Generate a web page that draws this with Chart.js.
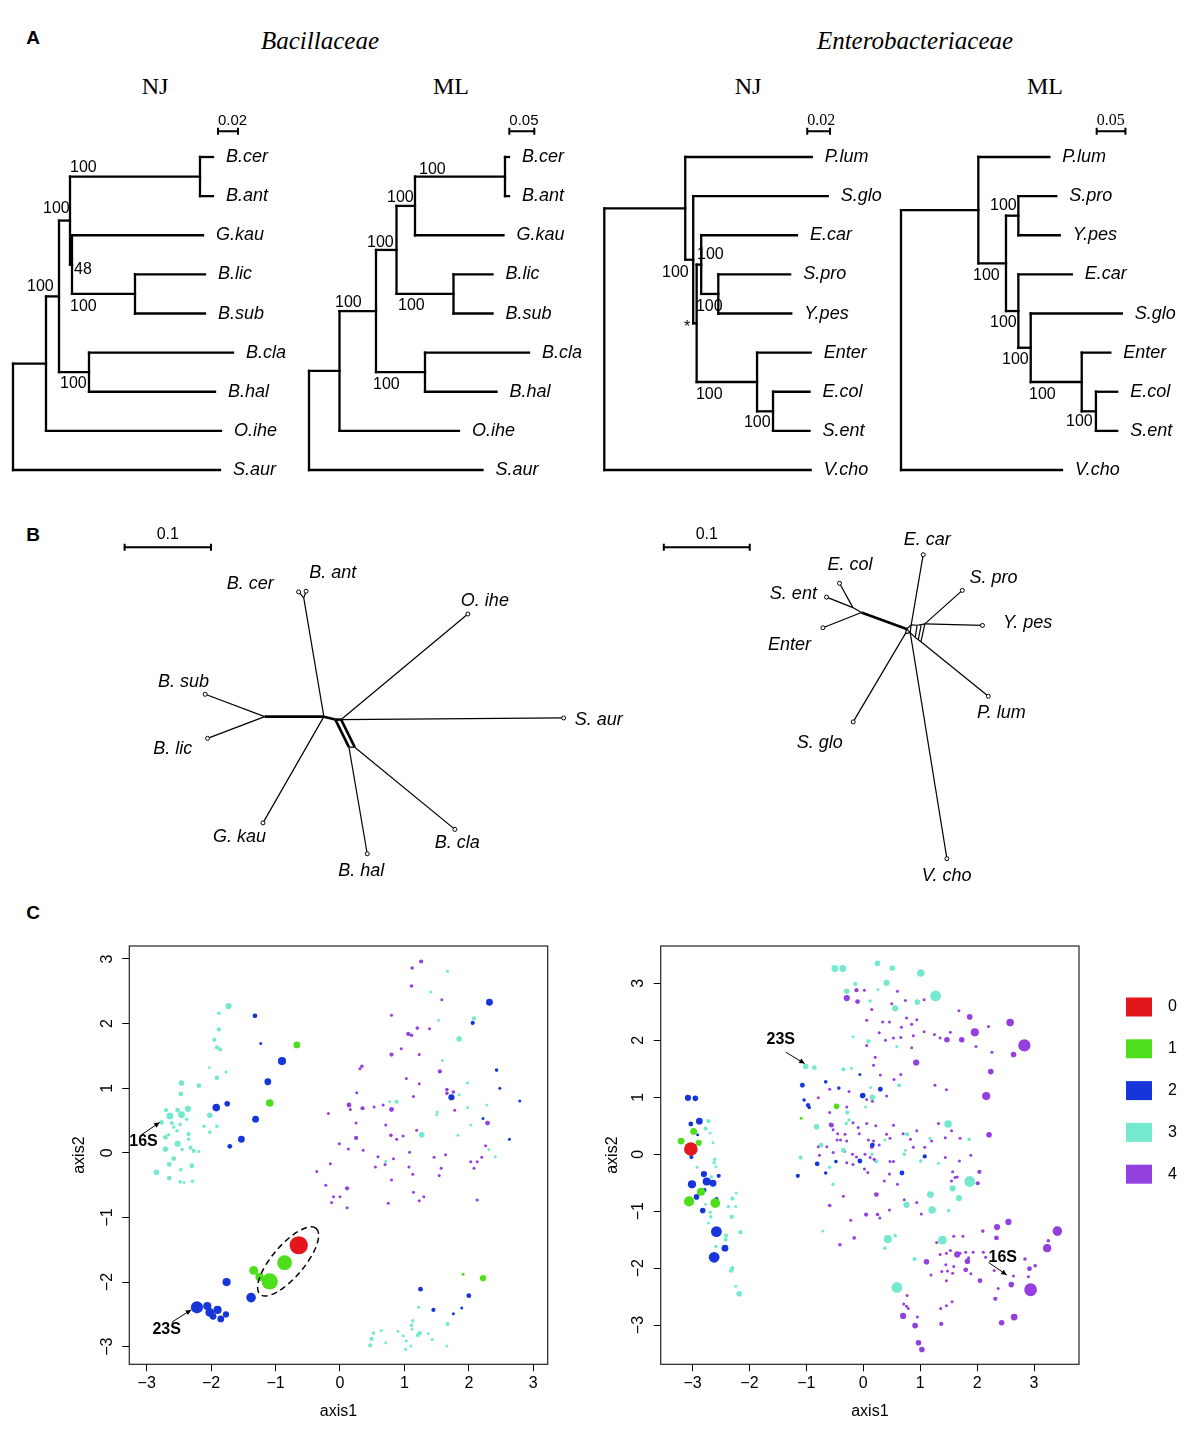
<!DOCTYPE html>
<html>
<head>
<meta charset="utf-8">
<script src="https://cdn.jsdelivr.net/npm/chart.js@4.4.1/dist/chart.umd.min.js"></script>
<style>
  body { margin: 0; background: #fff; }
  #page { position: relative; width: 1200px; height: 1436px; overflow: hidden; background: #fff; }
  canvas { position: absolute; }
  .t { position: absolute; transform: translate(-50%, -50%); line-height: 1; white-space: nowrap; color: #000; }
  .letter { font: bold 19px "Liberation Sans", Arial, sans-serif; }
  .fam { font: italic 25px "Liberation Serif", "Times New Roman", serif; }
  .meth { font: 24px "Liberation Serif", "Times New Roman", serif; }
</style>
</head>
<body>
<div id="page">
  <div class="t letter" style="left:33px;top:38px">A</div>
  <div class="t letter" style="left:33px;top:535px">B</div>
  <div class="t letter" style="left:33px;top:913px">C</div>
  <div class="t fam" style="left:320px;top:41px">Bacillaceae</div>
  <div class="t fam" style="left:915px;top:41px">Enterobacteriaceae</div>
  <div class="t meth" style="left:155px;top:86px">NJ</div>
  <div class="t meth" style="left:451px;top:86px">ML</div>
  <div class="t meth" style="left:748px;top:86px">NJ</div>
  <div class="t meth" style="left:1045px;top:86px">ML</div>

  <canvas id="njBac" width="300" height="390" style="left:0px;top:100px"></canvas>
  <canvas id="mlBac" width="290" height="390" style="left:300px;top:100px"></canvas>
  <canvas id="njEnt" width="300" height="390" style="left:590px;top:100px"></canvas>
  <canvas id="mlEnt" width="310" height="390" style="left:890px;top:100px"></canvas>

  <canvas id="bacNet" width="540" height="390" style="left:100px;top:510px"></canvas>
  <canvas id="entNet" width="420" height="390" style="left:640px;top:510px"></canvas>

  <canvas id="pcoLeft" width="500" height="500" style="left:60px;top:930px"></canvas>
  <canvas id="pcoRight" width="610" height="500" style="left:590px;top:930px"></canvas>
</div>

<script>
// ---------- panel A: trees (branch length from root, tips listed top to bottom) ----------
// internal nodes: [name, depth, children]; a child is a tip index or another node name
const njBacTips = ['B.cer', 'B.ant', 'G.kau', 'B.lic', 'B.sub', 'B.cla', 'B.hal', 'O.ihe', 'S.aur'];
const njBacLen = [0.200, 0.200, 0.190, 0.192, 0.192, 0.220, 0.202, 0.208, 0.207];
const njBacNodes = [
  ['root', 0, ['a', 8]],
  ['a', 0.033, ['b', 7]],
  ['b', 0.046, ['c', 'd']],
  ['c', 0.057, ['e', 'f']],
  ['e', 0.187, [0, 1]],
  ['f', 0.059, [2, 'g']],
  ['g', 0.122, [3, 4]],
  ['d', 0.076, [5, 6]]
];
const njBacSupport = [['100', 0.057, 0.28], ['100', 0.030, 1.33], ['48', 0.061, 2.88], ['100', 0.057, 3.83], ['100', 0.014, 3.32], ['100', 0.047, 5.78]];

const mlBacTips = ['B.cer', 'B.ant', 'G.kau', 'B.lic', 'B.sub', 'B.cla', 'B.hal', 'O.ihe', 'S.aur'];
const mlBacLen = [0.400, 0.400, 0.389, 0.367, 0.367, 0.440, 0.375, 0.300, 0.347];
const mlBacNodes = [
  ['root', 0, ['a', 8]],
  ['a', 0.061, ['b', 7]],
  ['b', 0.134, ['c', 'd']],
  ['c', 0.175, ['e', 'g']],
  ['e', 0.212, ['f', 2]],
  ['f', 0.392, [0, 1]],
  ['g', 0.289, [3, 4]],
  ['d', 0.232, [5, 6]]
];
const mlBacSupport = [['100', 0.220, 0.31], ['100', 0.156, 1.05], ['100', 0.116, 2.18], ['100', 0.178, 3.80], ['100', 0.052, 3.71], ['100', 0.128, 5.82]];

const njEntTips = ['P.lum', 'S.glo', 'E.car', 'S.pro', 'Y.pes', 'Enter', 'E.col', 'S.ent', 'V.cho'];
const njEntLen = [0.182, 0.196, 0.169, 0.163, 0.164, 0.181, 0.180, 0.180, 0.181];
const njEntNodes = [
  ['root', 0, ['a', 8]],
  ['a', 0.071, [0, 'b']],
  ['b', 0.078, [1, 'c']],
  ['c', 0.081, ['f', 'g']],
  ['f', 0.085, [2, 'h']],
  ['h', 0.100, [3, 4]],
  ['g', 0.134, [5, 'k']],
  ['k', 0.148, [6, 7]]
];
const njEntSupport = [['100', 0.0813, 2.5], ['100', 0.0506, 2.96], ['100', 0.0804, 3.83], ['*', 0.0700, 4.37], ['100', 0.0804, 6.06], ['100', 0.1225, 6.8]];

const mlEntTips = ['P.lum', 'S.pro', 'Y.pes', 'E.car', 'S.glo', 'Enter', 'E.col', 'S.ent', 'V.cho'];
const mlEntLen = [0.258, 0.270, 0.276, 0.297, 0.384, 0.364, 0.376, 0.376, 0.280];
const mlEntNodes = [
  ['root', 0, ['a', 8]],
  ['a', 0.1345, [0, 'b']],
  ['b', 0.1826, ['s', 'c']],
  ['s', 0.2041, [1, 2]],
  ['c', 0.2041, [3, 'd']],
  ['d', 0.2256, [4, 'g']],
  ['g', 0.3143, [5, 'k']],
  ['k', 0.3390, [6, 7]]
];
const mlEntSupport = [['100', 0.1548, 1.25], ['100', 0.1252, 3.04], ['100', 0.1548, 4.22], ['100', 0.1757, 5.19], ['100', 0.2226, 6.06], ['100', 0.2870, 6.77]];

// ---------- panel B: split networks (x, y in substitutions per site) ----------
const bacNetTips = ['B. cer', 'B. ant', 'O. ihe', 'B. sub', 'S. aur', 'B. lic', 'G. kau', 'B. cla', 'B. hal'];
const bacNetTipXY = [[-0.0292, 0.1455], [-0.0206, 0.1463], [0.1667, 0.1197], [-0.1374, 0.0261], [0.2776, -0.0015],
  [-0.1347, -0.0253], [-0.0705, -0.1239], [0.1517, -0.1315], [0.0502, -0.1599]];
const bacNetInner = { n0: [0, 0], n1: [0.0133, -0.0034], n1b: [0.0200, -0.0034], n2: [0.0290, -0.0356], n3: [0.0357, -0.0356],
  j1: [-0.0685, 0], jc: [-0.0233, 0.1386] };
const bacNetEdges = [['jc', 'B. cer'], ['jc', 'B. ant'], ['n0', 'jc'], ['j1', 'B. sub'], ['j1', 'B. lic'], ['j1', 'n0'],
  ['n0', 'G. kau'], ['n0', 'n1'], ['n1', 'n1b'], ['n1b', 'O. ihe'], ['n1b', 'S. aur'], ['n1', 'n2'], ['n1b', 'n3'],
  ['n2', 'n3'], ['n2', 'B. hal'], ['n3', 'B. cla']];
const bacNetBold = ['j1-n0', 'n0-n1', 'n1-n1b', 'n1-n2', 'n1b-n3'];
const bacNetLabelXY = [[-0.0852, 0.1545], [0.0102, 0.1670], [0.1864, 0.1352], [-0.1625, 0.0409], [0.3182, -0.0034],
  [-0.1750, -0.0375], [-0.0977, -0.1409], [0.1545, -0.1477], [0.0432, -0.1795]];

const entNetTips = ['E. car', 'E. col', 'S. pro', 'S. ent', 'Y. pes', 'Enter', 'P. lum', 'S. glo', 'V. cho'];
const entNetTipXY = [[0.0193, 0.0867], [-0.0781, 0.0534], [0.0648, 0.0451], [-0.0932, 0.0372], [0.0883, 0.0042],
  [-0.0974, 0.0015], [0.0951, -0.0784], [-0.0622, -0.1083], [0.0469, -0.2678]];
const entNetInner = { h0: [0, 0], h1: [0.0053, 0.0049], h6: [0.0122, 0.0044], h8: [0.0170, 0.0052], h2: [0.0212, 0.0060],
  h3: [0.0167, -0.0148], h9: [0.0136, -0.0125], h7: [0.0100, -0.0098], h4: [0.0042, -0.0042], h5: [-0.0015, -0.0053],
  j: [-0.0526, 0.0193], j2: [-0.0625, 0.0250] };
const entNetEdges = [['h0', 'j'], ['j', 'Enter'], ['j', 'j2'], ['j2', 'E. col'], ['j2', 'S. ent'], ['h0', 'h1'], ['h1', 'h6'],
  ['h6', 'h8'], ['h8', 'h2'], ['h0', 'h5'], ['h5', 'h4'], ['h4', 'h7'], ['h7', 'h9'], ['h9', 'h3'], ['h3', 'h2'],
  ['h1', 'h4'], ['h6', 'h7'], ['h8', 'h9'], ['h0', 'h4'],
  ['h1', 'E. car'], ['h2', 'S. pro'], ['h2', 'Y. pes'], ['h3', 'P. lum'], ['h4', 'V. cho'], ['h5', 'S. glo']];
const entNetBold = ['h0-j'];
const entNetLabelXY = [[0.0239, 0.1034], [-0.0659, 0.0750], [0.1011, 0.0591], [-0.1318, 0.0409], [0.1409, 0.0068],
  [-0.1364, -0.0182], [0.1102, -0.0977], [-0.1011, -0.1330], [0.0466, -0.2886]];

// ---------- panel C: ordination, points [axis1, axis2, size] ----------
const categories = ['0', '1', '2', '3', '4'];
const catColors = ['#E2161B', '#4EDF1C', '#1736DA', '#74E9CF', '#9340DF'];
const axisTicks = [-3, -2, -1, 0, 1, 2, 3];

const leftRed = [[-0.64, -1.43, 9.1]];
const leftGreen = [[-0.67, 1.67, 3.4], [-1.09, 0.77, 3.8], [-0.86, -1.70, 7.4], [-1.09, -1.99, 8.1], [-1.34, -1.82, 4.4],
  [-1.25, -1.92, 4.1], [1.91, -1.88, 1.5], [2.22, -1.94, 3.1]];
const leftBlue = [[-1.32, 2.12, 2.4], [-1.23, 1.69, 1.5], [-0.90, 1.42, 4.1], [-1.12, 1.10, 3.4], [-1.92, 0.70, 3.8],
  [-1.75, 0.76, 2.8], [-1.31, 0.52, 3.4], [-1.53, 0.21, 3.4], [-1.71, 0.10, 2.4],
  [-1.38, -2.24, 4.8], [-1.76, -2.00, 4.1], [-2.22, -2.39, 6.1], [-2.06, -2.37, 4.1], [-2.02, -2.47, 4.4], [-1.90, -2.43, 4.1],
  [-1.97, -2.53, 3.4], [-1.85, -2.57, 3.4], [-1.77, -2.50, 3.1],
  [2.32, 2.33, 3.4], [2.06, 2.01, 2.1], [2.43, 1.28, 1.8], [2.48, 1.00, 1.5], [1.73, 0.86, 3.1], [2.22, 0.53, 1.5],
  [2.79, 0.80, 1.5], [2.63, 0.21, 1.5],
  [1.25, -2.11, 2.4], [2.00, -2.21, 2.4], [1.45, -2.43, 2.1], [1.89, -2.40, 1.5], [1.76, -2.49, 1.5]];
const leftCyan = [[-1.73, 2.27, 3.1], [-1.88, 2.16, 1.8], [-1.88, 1.91, 2.1], [-1.95, 1.75, 2.1], [-1.91, 1.63, 2.1],
  [-1.86, 1.60, 2.1], [-1.77, 1.25, 1.5], [-1.91, 1.16, 2.4], [-2.03, 1.32, 1.2], [-2.19, 1.04, 2.4], [-2.46, 1.08, 2.8],
  [-2.47, 0.91, 2.4], [-2.36, 0.68, 3.1], [-2.52, 0.66, 2.4], [-2.64, 0.57, 3.4], [-2.70, 0.66, 2.1], [-2.46, 0.59, 3.4],
  [-2.38, 0.52, 1.8], [-2.61, 0.46, 2.1], [-2.58, 0.40, 1.8], [-2.77, 0.47, 2.4], [-2.02, 0.58, 2.8], [-2.11, 0.41, 1.8],
  [-1.91, 0.41, 1.8], [-2.02, 0.32, 1.8], [-2.35, 0.29, 2.1], [-2.52, 0.14, 3.1], [-2.35, 0.21, 1.8], [-2.71, 0.24, 2.4],
  [-2.71, 0.06, 2.8], [-2.45, 0.05, 1.8], [-2.32, 0.08, 2.1], [-2.27, 0.03, 2.1], [-2.19, 0.02, 1.5], [-2.58, -0.09, 2.4],
  [-2.65, -0.18, 2.4], [-2.85, -0.30, 2.8], [-2.47, -0.26, 1.8], [-2.30, -0.20, 2.4], [-2.65, -0.39, 2.4], [-2.48, -0.45, 1.8],
  [-2.42, -0.46, 1.5], [-2.29, -0.44, 1.8], [-1.74, 0.76, 1.5], [-2.48, 0.44, 1.8], [-2.53, 0.34, 1.8], [-2.66, 0.28, 1.8],
  [1.41, 2.49, 1.5], [1.67, 2.81, 1.5], [1.53, 2.05, 1.5], [2.08, 2.08, 2.1], [1.85, 1.76, 2.8], [1.59, 1.43, 1.5],
  [1.98, 1.08, 1.5], [1.85, 0.90, 1.5], [0.77, 0.79, 1.5], [0.88, 0.79, 2.1], [1.51, 0.63, 1.5], [1.98, 0.70, 1.5],
  [2.28, 0.74, 1.5], [2.03, 0.43, 1.5], [1.27, 0.28, 2.8], [1.83, 0.27, 1.5], [2.31, 0.05, 1.5], [2.41, -0.06, 1.5],
  [0.71, -0.13, 1.5], [1.50, 0.59, 1.5],
  [1.67, -2.65, 2.1], [1.22, -2.39, 1.5], [1.13, -2.60, 1.8], [1.11, -2.67, 1.8], [1.24, -2.79, 2.1], [1.21, -2.82, 2.1],
  [1.37, -2.80, 1.5], [1.43, -2.89, 1.5], [0.90, -2.76, 1.5], [0.98, -2.83, 1.5], [1.03, -2.91, 1.5], [1.10, -2.99, 1.5],
  [1.02, -3.04, 1.5], [0.64, -2.75, 1.5], [0.52, -2.79, 1.8], [0.49, -2.88, 2.1], [0.47, -2.98, 2.1], [0.71, -2.94, 1.5],
  [1.66, -2.99, 1.5], [1.12, -2.73, 1.5]];
const leftPurple = [[1.26, 2.96, 2.1], [1.12, 2.86, 1.8], [1.11, 2.58, 1.8], [1.58, 2.37, 1.5], [0.80, 2.13, 1.5],
  [1.20, 1.93, 1.8], [1.39, 1.92, 1.5], [1.06, 1.84, 2.1], [1.11, 1.82, 1.8], [0.95, 1.61, 1.5], [0.80, 1.52, 2.1],
  [1.23, 1.52, 1.5], [0.34, 1.34, 1.8], [0.31, 1.30, 1.5], [1.55, 1.26, 2.1], [1.03, 1.15, 1.5], [1.23, 1.07, 1.5],
  [0.26, 0.93, 1.5], [1.14, 0.87, 1.5], [1.66, 0.98, 1.8], [1.66, 0.92, 1.8], [1.76, 0.94, 1.8], [0.14, 0.74, 2.4],
  [0.16, 0.67, 1.5], [0.35, 0.69, 2.1], [0.53, 0.71, 1.5], [0.67, 0.74, 1.5], [0.80, 0.67, 2.4], [1.78, 0.66, 1.5],
  [2.29, 0.46, 2.4], [-0.18, 0.61, 1.5], [0.25, 0.46, 1.5], [0.71, 0.43, 1.5], [1.19, 0.35, 1.5], [0.25, 0.23, 2.1],
  [0.79, 0.27, 1.8], [0.88, 0.21, 1.5], [0.98, 0.26, 1.5], [-0.01, 0.14, 1.5], [0.13, 0.06, 1.5], [0.36, 0.04, 1.5],
  [1.08, 0.01, 1.5], [2.26, 0.11, 1.5], [1.64, -0.03, 1.5], [1.46, -0.07, 1.5], [2.03, -0.14, 1.5], [2.13, -0.14, 1.5],
  [2.20, -0.07, 1.5], [-0.15, -0.17, 1.5], [0.59, -0.06, 1.5], [0.70, -0.18, 1.5], [0.83, -0.09, 1.5], [0.55, -0.22, 1.5],
  [1.07, -0.22, 1.5], [1.13, -0.33, 1.5], [1.57, -0.24, 1.5], [1.54, -0.35, 1.5], [2.08, -0.24, 1.5], [-0.36, -0.29, 1.5],
  [-0.22, -0.50, 1.5], [0.11, -0.55, 2.1], [-0.10, -0.68, 1.5], [0.00, -0.68, 1.5], [-0.13, -0.77, 1.5], [0.11, -0.85, 1.5],
  [0.80, -0.42, 1.5], [1.14, -0.61, 1.5], [1.30, -0.68, 1.5], [1.23, -0.74, 1.5], [0.75, -0.78, 1.5], [2.13, -0.73, 1.5]];

const rightRed = [[-3.03, 0.09, 6.8]];
const rightGreen = [[-2.98, 0.40, 3.4], [-3.20, 0.23, 3.4], [-2.89, 0.20, 3.1], [-2.85, -0.66, 4.1], [-3.06, -0.83, 5.1],
  [-2.60, -0.86, 4.8], [-0.47, 0.84, 2.8], [-1.09, 0.63, 1.5]];
const rightBlue = [[-3.08, 0.99, 3.1], [-2.95, 0.98, 2.8], [-3.03, 0.53, 2.4], [-2.88, 0.58, 3.4], [-2.91, 0.34, 1.5],
  [-3.02, -0.05, 2.1], [-2.80, -0.35, 3.1], [-2.75, -0.48, 4.1], [-2.64, -0.51, 3.4], [-3.01, -0.53, 4.1], [-2.54, -0.38, 2.1],
  [-2.93, -0.75, 2.8], [-2.79, -0.63, 2.1], [-2.58, -0.79, 2.1], [-2.82, -0.99, 2.8], [-2.58, -1.36, 5.4], [-2.43, -1.65, 3.4],
  [-2.62, -1.81, 5.4],
  [-1.07, 1.21, 2.4], [-1.04, 0.95, 1.8], [-0.97, 0.86, 2.1], [-0.95, 0.82, 1.8], [-0.66, 1.27, 1.8], [-0.43, 1.16, 1.8],
  [-0.06, 1.40, 1.5], [-0.01, 1.03, 2.8], [0.30, 1.14, 2.4], [0.16, 0.16, 2.4], [-0.06, -0.12, 2.4], [-0.81, -0.17, 2.4],
  [-0.66, -0.33, 1.8], [-0.48, -0.13, 1.8], [-1.15, -0.38, 2.1], [0.68, -0.33, 2.4], [1.08, -0.04, 2.1]];
const rightCyan = [[-2.72, 0.58, 2.1], [-2.77, 0.45, 2.1], [-2.69, 0.37, 1.5], [-2.64, 0.20, 1.5], [-2.61, -0.09, 1.8],
  [-2.62, -0.15, 1.8], [-2.59, -0.22, 1.5], [-2.92, -0.23, 1.5], [-2.67, -0.40, 1.8], [-2.77, -0.88, 1.5], [-2.65, -0.82, 1.8],
  [-2.37, -0.92, 1.8], [-2.30, -0.78, 2.1], [-2.23, -0.68, 1.5], [-2.24, -0.92, 1.5], [-2.69, -1.02, 1.8], [-2.68, -1.10, 1.8],
  [-2.31, -1.10, 2.1], [-2.72, -1.21, 1.5], [-2.41, -1.43, 2.1], [-2.42, -1.50, 2.1], [-2.16, -1.37, 2.1], [-2.59, -1.62, 1.8],
  [-2.32, -2.04, 2.4], [-2.30, -2.00, 2.1], [-2.24, -2.32, 1.5], [-2.18, -2.45, 2.8],
  [-0.50, 3.26, 3.4], [-0.36, 3.26, 3.4], [0.25, 3.35, 2.8], [0.51, 3.27, 2.8], [1.01, 3.18, 3.8], [1.27, 2.78, 5.4],
  [0.41, 3.01, 3.1], [-0.14, 2.99, 2.1], [-0.29, 2.86, 2.8], [0.26, 2.89, 1.5], [0.12, 2.69, 1.8], [0.95, 2.67, 2.8],
  [0.56, 2.56, 3.1], [0.09, 1.98, 2.1], [-0.18, 2.06, 1.5], [0.59, 1.89, 1.5], [-1.01, 1.54, 2.8], [-0.86, 1.52, 2.4],
  [-0.35, 1.49, 2.1], [-0.21, 1.51, 1.5], [0.16, 1.00, 2.8], [0.63, 1.21, 2.1], [0.13, 1.17, 1.5], [0.04, 0.83, 1.5],
  [-0.28, 0.73, 2.1], [-0.30, 0.54, 1.8], [-0.25, 0.60, 1.8], [-0.82, 0.48, 2.8], [-0.74, 0.16, 2.4], [-0.35, 0.07, 2.4],
  [-1.10, -0.06, 2.1], [-0.53, -0.53, 1.8], [-0.59, -0.23, 1.8], [1.49, 0.53, 3.8], [1.86, 0.26, 1.8], [1.87, -0.48, 5.4],
  [1.57, -0.60, 3.1], [1.68, -0.77, 3.1], [1.18, -0.71, 3.4], [0.76, -0.89, 3.1], [1.21, -0.98, 3.8], [0.77, 0.35, 2.1],
  [0.38, 0.25, 1.5], [1.01, -0.12, 1.8], [1.39, -1.51, 4.4], [1.50, -0.99, 1.8], [0.43, -1.49, 4.1], [0.56, -1.43, 1.8],
  [0.38, -1.65, 1.8], [0.59, -2.34, 5.4], [0.90, -1.84, 2.1], [-0.71, -1.35, 1.5], [0.15, 0.00, 1.8], [0.23, -0.13, 1.8],
  [0.74, 0.07, 1.5], [0.72, 0.00, 1.8], [1.17, 0.28, 1.5], [1.32, -0.16, 1.5]];
const rightPurple = [[2.83, 1.91, 6.1], [2.94, -2.38, 6.4], [3.41, -1.35, 4.8], [3.23, -1.65, 4.1], [2.58, 2.31, 3.8],
  [1.96, 2.14, 4.1], [2.16, 1.02, 4.1], [1.87, 2.41, 2.8], [1.73, 2.01, 2.8], [2.64, 1.75, 2.8], [2.24, 1.45, 2.8],
  [2.21, 0.34, 2.8], [2.35, -1.28, 3.1], [2.55, -1.19, 3.1], [2.65, -2.86, 3.4], [2.60, -2.29, 2.8], [2.92, -2.01, 2.4],
  [2.43, -2.96, 2.8], [2.05, -2.22, 2.4], [2.34, -1.47, 2.4], [2.10, -1.35, 1.8], [2.32, -2.54, 2.1], [2.84, -1.84, 1.8],
  [3.02, -1.96, 1.8], [3.25, -1.52, 1.8], [0.93, 1.61, 3.1], [0.70, -2.84, 3.1], [0.91, -3.01, 2.8], [0.97, -3.31, 2.8],
  [1.03, -3.43, 2.8], [1.37, -2.98, 2.1], [1.65, -1.76, 3.1], [1.83, -1.88, 2.8], [1.80, -2.03, 2.4], [2.04, -0.31, 2.1],
  [2.01, -0.51, 2.1], [1.11, -1.89, 2.8], [-0.29, 2.74, 3.1], [-0.10, 2.68, 2.4], [-0.12, 2.88, 2.1], [1.47, 2.01, 2.8],
  [-0.56, 0.51, 2.4], [0.15, 0.13, 2.1], [0.23, -0.71, 2.4], [0.05, -1.06, 2.1], [-0.59, -0.90, 1.8], [-0.41, -1.59, 1.8],
  [-0.16, -1.47, 1.8], [0.25, -1.06, 1.8],
  [0.02, 2.88, 1.5], [0.60, 2.86, 1.5], [0.74, 2.70, 1.5], [1.07, 2.71, 1.5], [0.50, 2.64, 1.5], [0.15, 2.54, 1.5],
  [0.76, 2.39, 1.5], [0.94, 2.36, 1.5], [0.06, 2.35, 1.5], [0.34, 2.32, 1.5], [0.46, 2.32, 1.5], [0.67, 2.23, 1.5],
  [0.85, 2.28, 1.5], [0.88, 2.08, 1.5], [1.07, 2.15, 1.5], [1.25, 2.10, 1.5], [1.35, 2.04, 1.5], [1.53, 2.14, 1.5],
  [1.68, 2.52, 1.5], [1.98, 1.89, 1.5], [2.20, 2.24, 1.5], [2.26, 1.79, 1.5], [0.39, 2.00, 1.5], [0.53, 2.04, 1.5],
  [0.66, 2.05, 1.5], [0.28, 2.13, 1.5], [0.06, 1.91, 1.5], [0.21, 1.70, 1.5], [0.18, 1.56, 1.5], [0.30, 1.39, 1.5],
  [0.54, 1.31, 1.5], [0.66, 1.40, 1.5], [0.85, 1.87, 1.5], [-0.59, 1.14, 1.5], [-0.79, 0.99, 1.5], [-0.59, 0.73, 1.5],
  [-0.29, 0.83, 1.5], [0.06, 0.96, 1.5], [0.41, 1.02, 1.5], [1.26, 1.21, 1.5], [1.46, 1.13, 1.5], [-0.25, 1.10, 1.5],
  [0.16, 0.93, 1.5], [-0.58, 0.53, 1.5], [-0.53, 0.43, 1.5], [-0.45, 0.36, 1.5], [-0.32, 0.35, 1.5], [-0.18, 0.55, 1.5],
  [-0.09, 0.47, 1.5], [0.06, 0.54, 1.5], [0.22, 0.50, 1.5], [0.41, 0.35, 1.5], [0.53, 0.51, 1.5], [0.70, 0.36, 1.5],
  [0.94, 0.41, 1.5], [1.20, 0.23, 1.5], [1.32, 0.54, 1.5], [1.55, 0.41, 1.5], [1.70, 0.28, 1.5], [-0.46, 0.25, 1.5],
  [-0.40, 0.25, 1.5], [-0.29, 0.23, 1.5], [-0.07, 0.36, 1.5], [0.09, 0.25, 1.5], [0.18, 0.23, 1.5], [0.28, 0.16, 1.5],
  [0.47, 0.28, 1.5], [-0.79, 0.13, 1.5], [-0.64, 0.13, 1.5], [-0.53, 0.03, 1.5], [-0.33, 0.05, 1.5], [-0.19, 0.00, 1.5],
  [-0.12, -0.05, 1.5], [0.03, 0.00, 1.5], [0.12, -0.06, 1.5], [0.19, -0.09, 1.5], [0.47, -0.13, 1.5], [0.53, -0.13, 1.5],
  [0.83, 0.26, 1.5], [0.88, 0.12, 1.5], [1.08, 0.12, 1.5], [1.44, -0.06, 1.5], [1.69, -0.12, 1.5], [1.89, -0.02, 1.5],
  [-0.77, -0.02, 1.5], [-0.29, -0.15, 1.5], [-0.18, -0.18, 1.5], [0.02, -0.26, 1.5], [0.08, -0.32, 1.5], [0.21, -0.11, 1.5],
  [0.37, -0.47, 1.5], [0.46, -0.35, 1.5], [0.60, -0.53, 1.5], [1.57, -0.31, 1.5], [1.61, -0.41, 1.5], [1.65, -0.40, 1.5],
  [1.44, 0.29, 1.5], [1.55, -0.47, 1.5], [-0.35, -0.74, 1.5], [-0.22, -1.16, 1.5], [0.29, -1.12, 1.5], [0.46, -0.98, 1.5],
  [0.72, -0.80, 1.5], [0.94, -0.85, 1.5], [1.02, -1.05, 1.5], [1.29, -1.55, 1.5], [1.35, -1.76, 1.5], [1.46, -1.74, 1.5],
  [1.53, -1.69, 1.5], [1.59, -1.44, 1.5], [1.70, -1.74, 1.5], [1.80, -1.72, 1.5], [1.45, -1.94, 1.5], [1.59, -1.97, 1.5],
  [1.48, -2.05, 1.5], [1.57, -2.09, 1.5], [1.38, -2.06, 1.5], [1.19, -2.12, 1.5], [1.46, -2.22, 1.5], [1.56, -2.59, 1.5],
  [1.46, -2.66, 1.5], [1.36, -2.71, 1.5], [0.77, -2.48, 1.5], [0.71, -2.63, 1.5], [0.76, -2.67, 1.5], [0.79, -2.71, 1.5],
  [0.95, -2.86, 1.5], [1.93, -1.72, 1.5], [2.11, -1.72, 1.5], [2.15, -1.81, 1.5], [2.30, -2.04, 1.5], [2.37, -2.36, 1.5],
  [2.64, -2.14, 1.5], [2.90, -2.15, 1.5], [1.75, -1.44, 1.5], [1.85, -1.82, 1.5], [1.89, -2.10, 1.5]];

// rRNA annotations: [text, text x, text y, arrow from x, y, arrow to x, y]
const leftNotes = [['16S', -3.05, 0.18, -3.08, 0.28, -2.80, 0.47], ['23S', -2.69, -2.74, -2.61, -2.62, -2.31, -2.43]];
const rightNotes = [['23S', -1.45, 2.01, -1.36, 1.79, -1.03, 1.59], ['16S', 2.45, -1.81, 2.20, -1.90, 2.52, -2.12]];
// dashed ellipse round the rRNA cluster: major axis ends, minor/major ratio
const leftEllipse = [-1.24, -2.19, -0.37, -1.17, 0.37];

Chart.defaults.font.family = '"Liberation Sans", Arial, Helvetica, sans-serif';
Chart.defaults.color = '#000';
const SANS = '"Liberation Sans", Arial, sans-serif';
const SERIF = '"Liberation Serif", "Times New Roman", serif';

// turn node list into horizontal / vertical branch segments
function treeSegments(len, nodes) {
  const byName = {};
  nodes.forEach(n => byName[n[0]] = n);
  const segs = [];
  function place(c) {
    if (typeof c === 'number') return { x: len[c], y: c };
    const [, depth, kids] = byName[c];
    const pts = kids.map(place);
    const y0 = pts[0].y, y1 = pts[pts.length - 1].y;
    segs.push([[depth, y0], [depth, y1]]);
    pts.forEach(p => segs.push([[depth, p.y], [p.x, p.y]]));
    return { x: depth, y: (y0 + y1) / 2 };
  }
  place(nodes[0][0]);
  return segs;
}

function hiddenScales(x0, x1, y0, y1, rev) {
  return {
    x: { type: 'linear', display: false, min: x0, max: x1 },
    y: { type: 'linear', display: false, min: y0, max: y1, reverse: rev }
  };
}

const baseOpts = {
  responsive: false, animation: false, events: [],
  layout: { padding: 0 },
  plugins: { legend: { display: false }, tooltip: { enabled: false } }
};

function drawBar(ctx, x0, x1, y) {
  ctx.lineWidth = 2;
  ctx.beginPath();
  ctx.moveTo(x0, y); ctx.lineTo(x1, y);
  ctx.moveTo(x0, y - 3.5); ctx.lineTo(x0, y + 3.5);
  ctx.moveTo(x1, y - 3.5); ctx.lineTo(x1, y + 3.5);
  ctx.stroke();
}

function treeChart(id, tips, len, nodes, support, view, bar) {
  const datasets = treeSegments(len, nodes).map(s => ({
    data: s.map(p => ({ x: p[0], y: p[1] })),
    showLine: true, borderColor: '#000', borderWidth: 2.3, pointRadius: 0, borderCapStyle: 'square'
  }));
  const labels = {
    id: 'treeLabels',
    afterDatasetsDraw(chart) {
      const { ctx, scales: { x, y } } = chart;
      ctx.save();
      ctx.fillStyle = '#000';
      ctx.strokeStyle = '#000';
      ctx.textBaseline = 'middle';
      ctx.textAlign = 'left';
      ctx.font = 'italic 18px ' + SANS;
      tips.forEach((t, i) => ctx.fillText(t, x.getPixelForValue(len[i]) + 13, y.getPixelForValue(i)));
      ctx.font = '16px ' + SANS;
      support.forEach(s => ctx.fillText(s[0], x.getPixelForValue(s[1]), y.getPixelForValue(s[2])));
      // scale bar
      const bx0 = x.getPixelForValue(bar.at), bx1 = x.getPixelForValue(bar.at + bar.len);
      drawBar(ctx, bx0, bx1, y.getPixelForValue(-0.66));
      ctx.font = bar.serif ? '16px ' + SERIF : '15px ' + SANS;
      ctx.fillText(bar.text, bx0, y.getPixelForValue(-0.93));
      ctx.restore();
    }
  };
  new Chart(document.getElementById(id), {
    type: 'scatter',
    data: { datasets },
    options: Object.assign({}, baseOpts, { scales: hiddenScales(view[0], view[1], -1.457, 8.511, true) }),
    plugins: [labels]
  });
}

treeChart('njBac', njBacTips, njBacLen, njBacNodes, njBacSupport, [-0.013, 0.287], { at: 0.205, len: 0.02, text: '0.02' });
treeChart('mlBac', mlBacTips, mlBacLen, mlBacNodes, mlBacSupport, [-0.018, 0.562], { at: 0.4006, len: 0.05, text: '0.05' });
treeChart('njEnt', njEntTips, njEntLen, njEntNodes, njEntSupport, [-0.01254, 0.2506], { at: 0.178, len: 0.02, text: '0.02', serif: true });
treeChart('mlEnt', mlEntTips, mlEntLen, mlEntNodes, mlEntSupport, [-0.01913, 0.52], { at: 0.3403, len: 0.05, text: '0.05', serif: true });

function netChart(id, tips, tipXY, inner, edges, bold, labelXY, view, barAt) {
  const where = Object.assign({}, inner);
  tips.forEach((t, i) => where[t] = tipXY[i]);
  const datasets = edges.map(([a, b]) => ({
    data: [{ x: where[a][0], y: where[a][1] }, { x: where[b][0], y: where[b][1] }],
    showLine: true, borderColor: '#000', pointRadius: 0,
    borderWidth: bold.includes(a + '-' + b) ? 2.6 : 1.2
  }));
  datasets.unshift({
    data: tipXY.map(p => ({ x: p[0], y: p[1] })),
    showLine: false, pointRadius: 2, pointBackgroundColor: '#fff', pointBorderColor: '#000', pointBorderWidth: 1
  });
  const labels = {
    id: 'netLabels',
    afterDatasetsDraw(chart) {
      const { ctx, scales: { x, y } } = chart;
      ctx.save();
      ctx.fillStyle = '#000';
      ctx.strokeStyle = '#000';
      ctx.textAlign = 'center';
      ctx.textBaseline = 'middle';
      ctx.font = 'italic 18px ' + SANS;
      tips.forEach((t, i) => ctx.fillText(t, x.getPixelForValue(labelXY[i][0]), y.getPixelForValue(labelXY[i][1])));
      const bx0 = x.getPixelForValue(barAt[0]), bx1 = x.getPixelForValue(barAt[0] + 0.1);
      drawBar(ctx, bx0, bx1, y.getPixelForValue(barAt[1]));
      ctx.font = '16px ' + SANS;
      ctx.fillText('0.1', (bx0 + bx1) / 2, y.getPixelForValue(barAt[1]) - 13);
      ctx.restore();
    }
  };
  new Chart(document.getElementById(id), {
    type: 'scatter',
    data: { datasets },
    options: Object.assign({}, baseOpts, { scales: hiddenScales(view[0], view[1], view[2], view[3], false) }),
    plugins: [labels]
  });
}

netChart('bacNet', bacNetTips, bacNetTipXY, bacNetInner, bacNetEdges, bacNetBold, bacNetLabelXY,
  [-0.2534, 0.3602, -0.208, 0.2352], [-0.2307, 0.1977]);
netChart('entNet', entNetTips, entNetTipXY, entNetInner, entNetEdges, entNetBold, entNetLabelXY,
  [-0.3045, 0.1727, -0.3102, 0.133], [-0.2826, 0.0955]);

// ---------- panel C ----------
const minus = v => (v < 0 ? '\u2212' + Math.abs(v) : String(v));

function arrow(ctx, x0, y0, x1, y1) {
  ctx.beginPath(); ctx.moveTo(x0, y0); ctx.lineTo(x1, y1); ctx.stroke();
  const a = Math.atan2(y1 - y0, x1 - x0), h = 6;
  ctx.beginPath();
  ctx.moveTo(x1, y1);
  ctx.lineTo(x1 - h * Math.cos(a - 0.45), y1 - h * Math.sin(a - 0.45));
  ctx.lineTo(x1 - h * Math.cos(a + 0.45), y1 - h * Math.sin(a + 0.45));
  ctx.closePath(); ctx.fill();
}

function pcoChart(id, groups, view, area, notes, ellipse, legend) {
  const datasets = groups.map((pts, k) => ({
    label: categories[k],
    data: pts.map(p => ({ x: p[0], y: p[1], r: p[2] })),
    backgroundColor: catColors[k], borderWidth: 0, hoverRadius: 0
  }));
  const extras = {
    id: 'pcoExtras',
    beforeDatasetsDraw(chart) {
      const { ctx, chartArea: c } = chart;
      ctx.save();
      ctx.strokeStyle = '#222';
      ctx.lineWidth = 1.2;
      ctx.strokeRect(c.left, c.top, c.right - c.left, c.bottom - c.top);
      ctx.restore();
    },
    afterDatasetsDraw(chart) {
      const { ctx, chartArea: c, scales: { x, y } } = chart;
      ctx.save();
      ctx.fillStyle = '#000';
      ctx.strokeStyle = '#000';
      ctx.lineWidth = 1;
      ctx.font = 'bold 16px ' + SANS;
      ctx.textAlign = 'center';
      ctx.textBaseline = 'middle';
      notes.forEach(n => {
        ctx.fillText(n[0], x.getPixelForValue(n[1]), y.getPixelForValue(n[2]));
        arrow(ctx, x.getPixelForValue(n[3]), y.getPixelForValue(n[4]), x.getPixelForValue(n[5]), y.getPixelForValue(n[6]));
      });
      if (ellipse) {
        const ax = x.getPixelForValue(ellipse[0]), ay = y.getPixelForValue(ellipse[1]);
        const bx = x.getPixelForValue(ellipse[2]), by = y.getPixelForValue(ellipse[3]);
        const half = Math.hypot(bx - ax, by - ay) / 2;
        ctx.setLineDash([6, 4]);
        ctx.lineWidth = 1.5;
        ctx.beginPath();
        ctx.ellipse((ax + bx) / 2, (ay + by) / 2, half, half * ellipse[4], Math.atan2(by - ay, bx - ax), 0, Math.PI * 2);
        ctx.stroke();
        ctx.setLineDash([]);
      }
      if (legend) {
        ctx.textAlign = 'left';
        ctx.font = '16px ' + SANS;
        categories.forEach((cat, i) => {
          const cy = c.top + 61 + i * 41.8;
          ctx.fillStyle = catColors[i];
          ctx.fillRect(c.right + 47, cy - 9.5, 26, 19);
          ctx.fillStyle = '#000';
          ctx.fillText(cat, c.right + 89, cy);
        });
      }
      ctx.restore();
    }
  };
  const tickGrid = { drawOnChartArea: false, drawTicks: true, tickLength: 7, color: '#000', lineWidth: 1 };
  new Chart(document.getElementById(id), {
    type: 'bubble',
    data: { datasets },
    options: Object.assign({}, baseOpts, {
      layout: { padding: { top: area.top, right: area.right, bottom: 0, left: 0 } },
      scales: {
        x: {
          type: 'linear', min: view[0], max: view[1],
          afterBuildTicks: s => { s.ticks = axisTicks.map(v => ({ value: v })); },
          afterFit: s => { s.height = area.xh; },
          grid: tickGrid, border: { display: false },
          ticks: { color: '#000', font: { size: 16 }, padding: 3, maxRotation: 0, callback: minus },
          title: { display: true, text: 'axis1', color: '#000', font: { size: 16 }, padding: { top: 0, bottom: 8.7 } }
        },
        y: {
          type: 'linear', min: view[2], max: view[3],
          afterBuildTicks: s => { s.ticks = axisTicks.map(v => ({ value: v })); },
          afterFit: s => { s.width = area.yw; },
          grid: tickGrid, border: { display: false },
          ticks: { color: '#000', font: { size: 16 }, padding: 6, minRotation: 90, maxRotation: 90, crossAlign: 'center', callback: minus },
          title: { display: true, text: 'axis2', color: '#000', font: { size: 16 }, padding: { top: area.titlePad, bottom: 0 } }
        }
      }
    }),
    plugins: [extras]
  });
}

pcoChart('pcoLeft', [leftRed, leftGreen, leftBlue, leftCyan, leftPurple], [-3.27, 3.224, -3.272, 3.2],
  { top: 16, right: 12.3, xh: 65.7, yw: 69.3, titlePad: 10.4 }, leftNotes, leftEllipse, false);
pcoChart('pcoRight', [rightRed, rightGreen, rightBlue, rightCyan, rightPurple], [-3.559, 3.79, -3.689, 3.655],
  { top: 16, right: 121, xh: 65.7, yw: 70.7, titlePad: 13 }, rightNotes, null, true);
</script>
</body>
</html>
